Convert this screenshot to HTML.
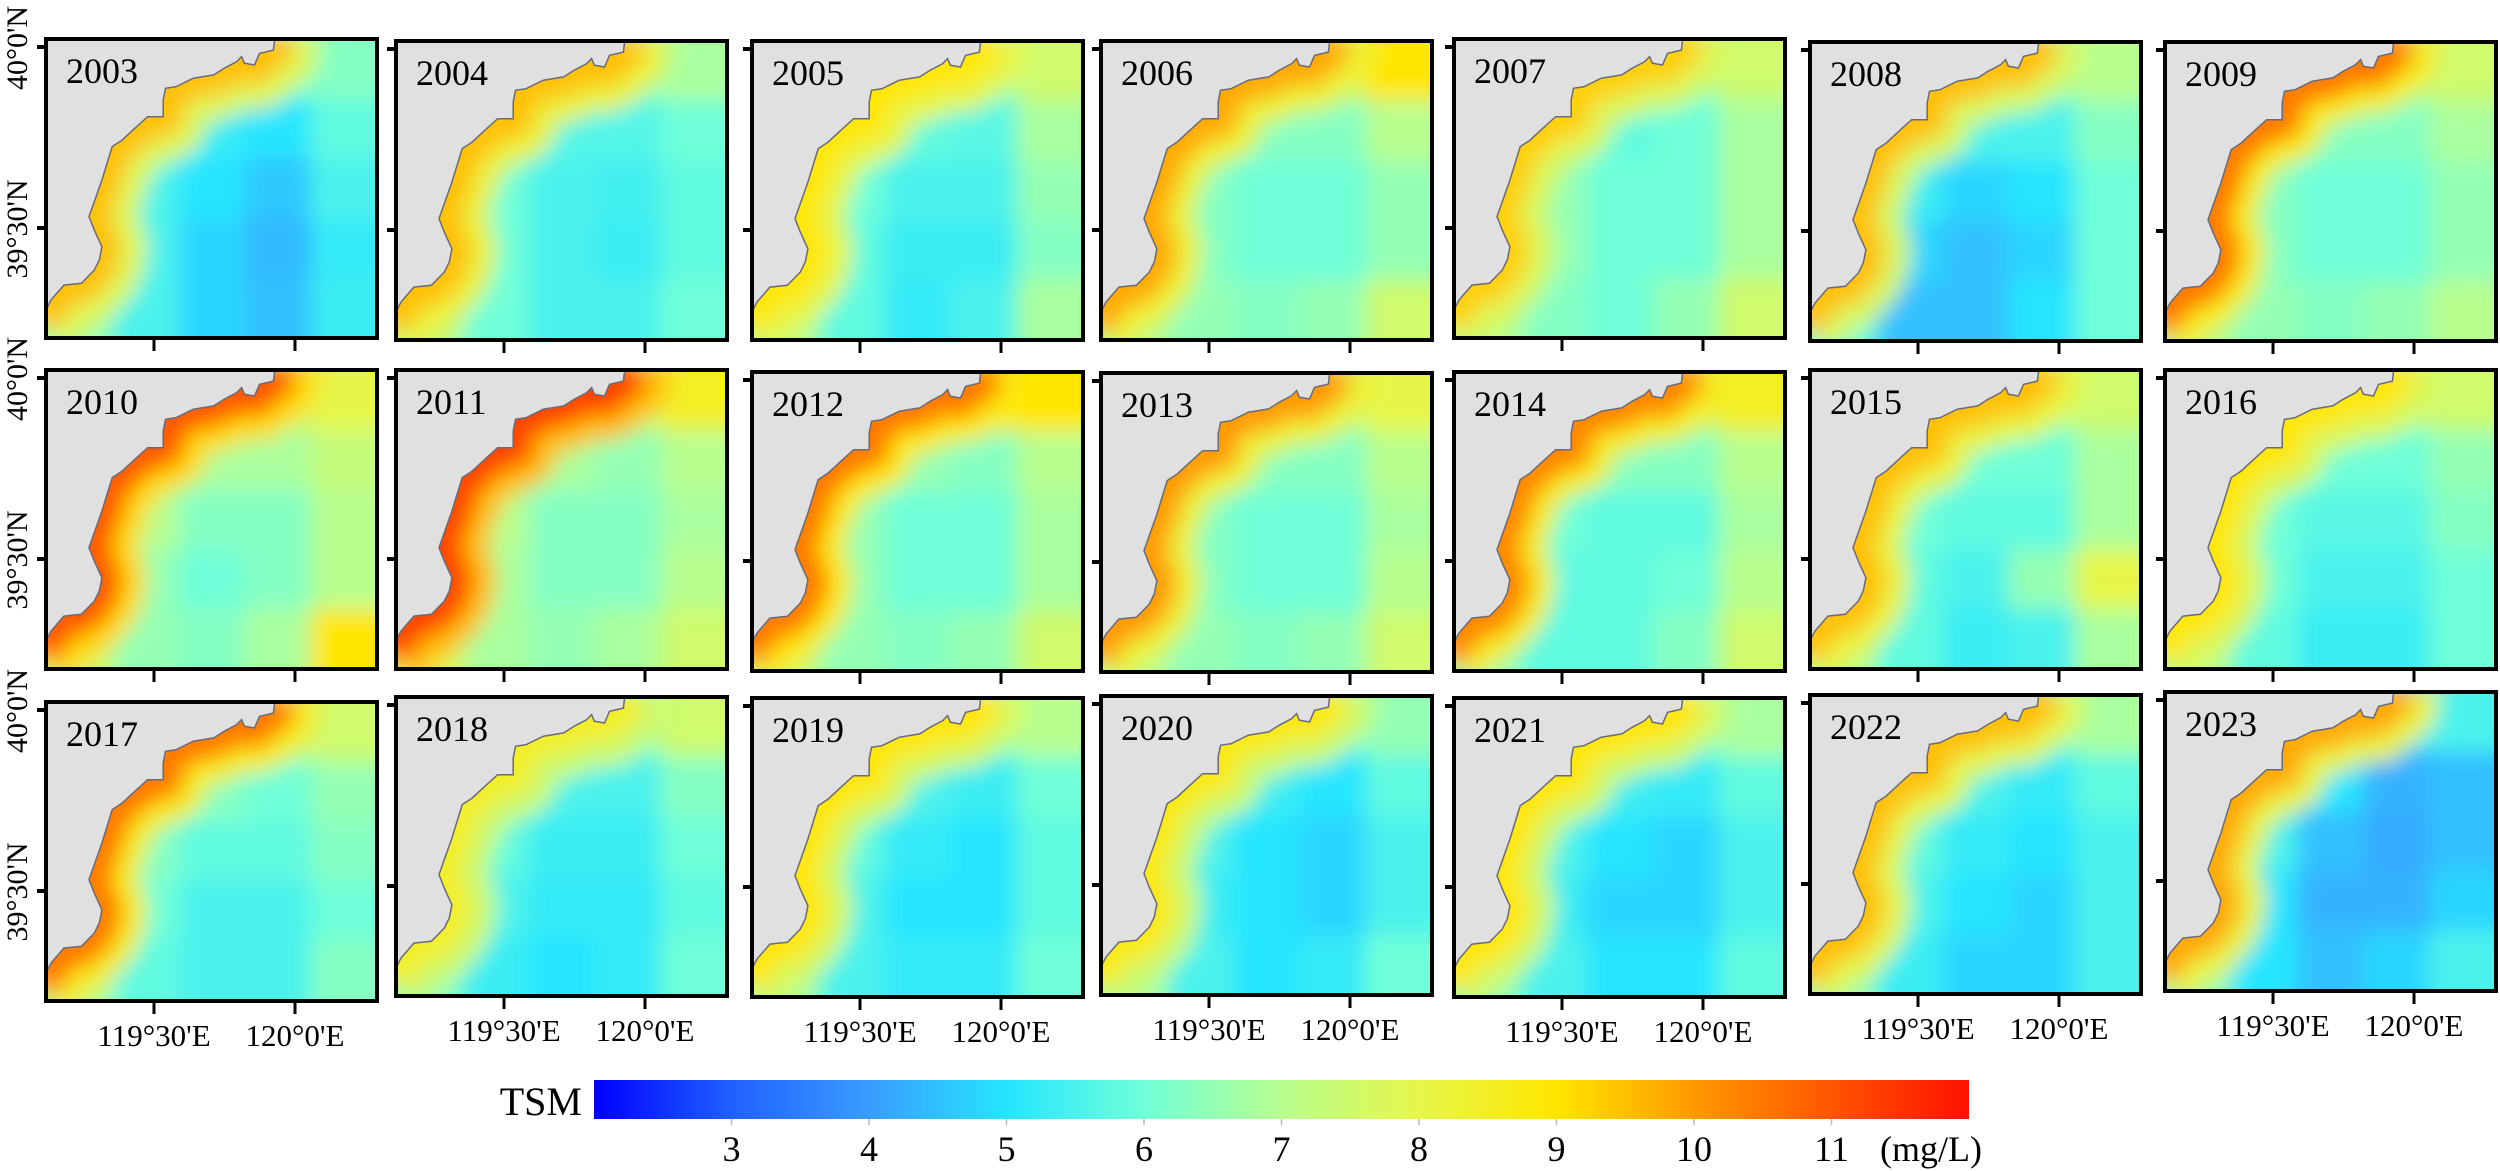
<!DOCTYPE html>
<html><head><meta charset="utf-8"><style>
html,body{margin:0;padding:0;background:#fff;}
svg{display:block;font-family:"Liberation Serif",serif;}
</style></head><body>
<svg id="fig" width="2500" height="1171" viewBox="0 0 2500 1171" xmlns="http://www.w3.org/2000/svg">
<defs id="defs">
<filter id="soft" x="-10%" y="-10%" width="120%" height="120%"><feGaussianBlur stdDeviation="11"/></filter>
</defs>
<g id="panels"></g>
<g id="colorbar"></g>
</svg>
<script>
const years=[2003,2004,2005,2006,2007,2008,2009,2010,2011,2012,2013,2014,2015,2016,2017,2018,2019,2020,2021,2022,2023];
// 5x5 grids (rows top->bottom, cols left->right), TSM mg/L
const grid2003=[7,6.5,6,6,6.3, 7,6,5.2,5,5.8, 7,5.5,5,4.6,5.5, 7,5.5,4.8,4.4,5.2, 6.5,5.5,4.8,4.5,5.3];
const grid2004=[7,6.8,6.3,6.3,6.8, 7.5,6,5.6,5.6,6, 7.5,6,5.5,5.4,5.8, 7.5,6,5.5,5.3,5.8, 7.2,6,5.5,5.5,6];
const grid2005=[7.5,7,6.5,6.5,7.5, 7.5,6.3,5.8,5.7,6.8, 7.5,6,5.5,5.5,6.5, 7,5.8,5.3,5.3,6.3, 7,5.8,5.2,5.5,6.8];
const grid2006=[8,7,6.8,7.5,9, 7.5,6.5,6.3,6.3,7, 7.5,6.3,6,6,6.5, 7,6.3,6,6,6.5, 7,6.5,6.3,6.5,7.5];
const grid2007=[7.5,7,6.5,6.8,7.5, 7,6.3,5.8,6,6.8, 7,6.5,6,6,6.8, 7,6.5,6,6,6.8, 7,6.3,6,6.5,7.5];
const grid2008=[7.5,7,6.5,6.5,7, 7,6,5.5,5.5,6.3, 6.5,5.3,4.8,5,6, 6.3,4.8,4.5,4.8,6, 6,4.5,4.5,5,6];
const grid2009=[8,8,7,7,7.5, 8,6.8,6.3,6.3,6.8, 7.5,6.3,6,6,6.5, 7.3,6.3,6,6,6.5, 7,6.5,6.3,6.5,7];
const grid2010=[9.5,8,7.5,7.5,8, 8.5,7.3,6.8,6.8,7.3, 8,7,6.3,6.3,7, 7.5,6.5,6,6.3,7, 7.5,6.5,6.3,6.8,9];
const grid2011=[10,9,8,7.5,8.5, 9,7.3,6.8,6.5,7, 8.3,7,6.3,6.3,6.8, 8,6.8,6.3,6.3,7, 7.8,6.8,6.5,6.8,7.5];
const grid2012=[9,8.5,8,8.5,9, 8.3,7,6.5,6.3,7, 7.8,6.5,6,6,6.8, 7.5,6.5,6,6,6.8, 7.5,6.5,6.3,6.5,7.5];
const grid2013=[8,7.5,7,7,8, 7.5,6.5,6.3,6.3,7, 7.3,6.3,6,6,6.8, 7,6.3,6,6,7, 7,6.5,6.3,6.5,7.5];
const grid2014=[9,8,7.5,7.5,8.5, 8,6.8,6.3,6.3,7, 7.5,6,5.8,5.8,6.8, 6.8,5.8,5.8,6,7, 6.5,5.8,5.8,6.3,7.5];
const grid2015=[8,7.5,7,7,7.5, 7.5,6.3,6,6,6.8, 7.3,6,5.8,5.8,6.8, 7,5.8,5.5,6.5,8, 7,5.8,5.3,5.5,6.8];
const grid2016=[8,7.5,7,7,7.5, 7.3,6.3,6,6,6.5, 7,6,5.7,5.7,6.3, 7,6,5.5,5.5,6, 7,5.8,5.3,5.3,6];
const grid2017=[8.5,8,7.5,7,7.5, 8,6.8,6.3,6,6.5, 7.5,6.3,5.8,5.8,6.3, 7.3,6,5.5,5.5,6, 7,5.8,5.5,5.5,6.3];
const grid2018=[7.5,7,6.5,6.3,7.5, 7,6,5.5,5.5,6.3, 6.8,5.8,5.3,5.3,6, 6.5,5.5,5.2,5.2,5.8, 6.3,5.3,5,5.2,6];
const grid2019=[7.5,7,6.5,6.3,7, 7,6,5.5,5.3,6, 7,5.8,5.2,5,5.8, 6.8,5.5,5,5,5.8, 6.8,5.5,5.2,5.2,6];
const grid2020=[7,6.5,6,5.8,6.5, 6.8,5.8,5.3,5,5.8, 6.8,5.5,5,4.8,5.5, 6.8,5.3,5,4.8,5.5, 6.8,5.5,5,5.2,6];
const grid2021=[7,6.5,6,6,6.8, 7,5.8,5.3,5.2,5.8, 6.8,5.5,5,4.8,5.5, 6.8,5.3,4.8,4.8,5.5, 6.5,5.5,5,5,5.8];
const grid2022=[7.5,7,6.3,6,6.8, 7.3,6,5.5,5.2,5.8, 7,5.8,5.2,5,5.5, 6.8,5.5,5,4.8,5.5, 6.5,5.3,4.8,4.8,5.5];
const grid2023=[7.5,7,6,5,5.5, 7.5,6,5,4.3,4.5, 7,5.5,4.5,4.2,4.5, 6.8,5,4.3,4.3,4.8, 6.5,5,4.5,4.8,5.5];
const grids=[grid2003,grid2004,grid2005,grid2006,grid2007,grid2008,grid2009,grid2010,grid2011,grid2012,grid2013,grid2014,grid2015,grid2016,grid2017,grid2018,grid2019,grid2020,grid2021,grid2022,grid2023];
const coastVals=[9.5,9.5,9,9.8,9.3,9.5,10.5,11,11.3,10.5,10,10.3,9.5,9,10.5,8.5,9,8.8,9,9.5,9.8];
const cbTicks=[3,4,5,6,7,8,9,10,11];
const cbMin=2, cbMax=12;

const stops=[[2,[0,0,255]],[3,[32,96,255]],[4,[58,156,255]],[5,[37,229,255]],[6,[112,255,216]],[7,[184,255,144]],[8,[230,246,74]],[9,[255,230,0]],[10,[255,153,0]],[11,[255,85,0]],[12,[255,17,0]]];
function cmap(v){
  v=Math.max(2,Math.min(12,v));
  for(let i=0;i<stops.length-1;i++){
    const a=stops[i],b=stops[i+1];
    if(v<=b[0]){const t=(v-a[0])/(b[0]-a[0]);
      const c=a[1].map((x,k)=>Math.round(x+(b[1][k]-x)*t));
      return `rgb(${c[0]},${c[1]},${c[2]})`;}
  }
  return 'rgb(255,17,0)';
}
const NS='http://www.w3.org/2000/svg';
function mk(tag,attrs,parent){const e=document.createElementNS(NS,tag);for(const k in attrs)e.setAttribute(k,attrs[k]);if(parent)parent.appendChild(e);return e;}

const coast=[[0.691,-0.02],[0.691,0],[0.687,0.037],[0.645,0.048],[0.63,0.087],[0.599,0.081],[0.591,0.059],[0.576,0.076],[0.538,0.098],[0.507,0.12],[0.445,0.131],[0.392,0.16],[0.361,0.165],[0.354,0.204],[0.354,0.26],[0.307,0.26],[0.268,0.299],[0.23,0.338],[0.2,0.36],[0.169,0.472],[0.13,0.594],[0.146,0.639],[0.169,0.695],[0.161,0.739],[0.146,0.773],[0.107,0.817],[0.054,0.823],[0.015,0.873],[0,0.906],[-0.03,0.95]];

const lefts=[46,396,752,1101,1454,1810,2165];
const tops=[[39,41,41,41,39,42,42],[370,370,372,373,372,370,370],[702,697,698,696,698,695,692]];
const PW=331, PH=299;
const defs=document.getElementById('defs');
const panels=document.getElementById('panels');

years.forEach((yr,i)=>{
  const r=Math.floor(i/7), c=i%7;
  const x0=lefts[c], y0=tops[r][c];
  const g=mk('g',{},panels);
  
  
  const cp=mk('clipPath',{id:'cp'+i},defs);
  mk('rect',{x:x0,y:y0,width:PW,height:PH},cp);
  const inner=mk('g',{'clip-path':'url(#cp'+i+')'},g);
  const soft=mk('g',{filter:'url(#soft)'},inner);
  const gr=grids[i];
  const cw=PW/5, ch=PH/5, ext=40;
  for(let rr=0;rr<5;rr++)for(let cc=0;cc<5;cc++){
    const cx=x0+cc*cw-(cc===0?ext:0), cy=y0+rr*ch-(rr===0?ext:0);
    const w=cw+0.6+(cc===0||cc===4?ext:0), h=ch+0.6+(rr===0||rr===4?ext:0);
    const cell=mk('rect',{x:cx,y:cy,width:w,height:h,fill:cmap(gr[rr*5+cc])},soft);
    
    
  }
  const pts=coast.map(p=>(x0+p[0]*PW).toFixed(1)+','+(y0+p[1]*PH).toFixed(1)).join(' ');
  const mid=(coastVals[i]+gr[5]+gr[10])/3;
  const band1=mk('polyline',{points:pts,fill:'none',stroke:cmap(mid),'stroke-width':90,'stroke-linejoin':'round'},soft);
  
  
  const band2=mk('polyline',{points:pts,fill:'none',stroke:cmap(coastVals[i]),'stroke-width':40,'stroke-linejoin':'round'},soft);
  
  
  const landPts=(x0-2)+','+(y0-2)+' '+pts+' '+(x0-10)+','+(y0+PH*0.95);
  const land=mk('polygon',{points:landPts,fill:'#e0e0e0',stroke:'#6a6a7a','stroke-width':1.5},inner);
  
  
  const border=mk('rect',{x:x0,y:y0,width:PW,height:PH,fill:'none',stroke:'#000','stroke-width':4},g);
  
  
  const t=mk('text',{x:x0+20,y:y0+44,'font-size':36,fill:'#000'},g);
  t.textContent=yr;
  
  
  [8,189].forEach(dy=>{mk('line',{x1:x0-9,x2:x0,y1:y0+dy,y2:y0+dy,stroke:'#000','stroke-width':4},g);});
  [108,249].forEach(dx=>{mk('line',{x1:x0+dx,x2:x0+dx,y1:y0+PH,y2:y0+PH+13,stroke:'#000','stroke-width':3},g);});
  if(r===2){
    ["119°30'E","120°0'E"].forEach((s,k)=>{
      const tl=mk('text',{x:x0+[108,249][k],y:y0+PH+45,'font-size':31,'text-anchor':'middle',fill:'#000'},g);
      tl.textContent=s;
      
      
    });
  }
  if(c===0){
    [["40°0'N",9],["39°30'N",190]].forEach(([s,dy])=>{
      const yl=mk('text',{x:0,y:0,'font-size':30,'text-anchor':'middle',fill:'#000',transform:`translate(27,${y0+dy}) rotate(-90)`},g);
      yl.textContent=s;
      
      
    });
  }
});

// colorbar
const cb=document.getElementById('colorbar');
const cbX0=594, cbX1=1969, cbY=1080, cbH=39;
const xs=v=>cbX0+(v-cbMin)/(cbMax-cbMin)*(cbX1-cbX0);
const lg=mk('linearGradient',{id:'cbg',x1:0,x2:1,y1:0,y2:0},defs);
stops.forEach(s=>{mk('stop',{offset:((s[0]-cbMin)/(cbMax-cbMin)).toFixed(3),'stop-color':cmap(s[0])},lg);});
const bar=mk('rect',{x:cbX0,y:cbY,width:cbX1-cbX0,height:cbH,fill:'url(#cbg)'},cb);


const tsm=mk('text',{x:582,y:1115,'font-size':40,'text-anchor':'end',fill:'#000'},cb);
tsm.textContent='TSM';


cbTicks.forEach(v=>{
  mk('line',{x1:xs(v),x2:xs(v),y1:cbY+cbH,y2:cbY+cbH+6,stroke:'#bbb','stroke-width':1.5},cb);
  const tl=mk('text',{x:xs(v),y:1161,'font-size':36,'text-anchor':'middle',fill:'#000'},cb);
  tl.textContent=v;
  
  
});
const unit=mk('text',{x:1880,y:1161,'font-size':36,fill:'#000'},cb);
unit.textContent='(mg/L)';


</script>
</body></html>
